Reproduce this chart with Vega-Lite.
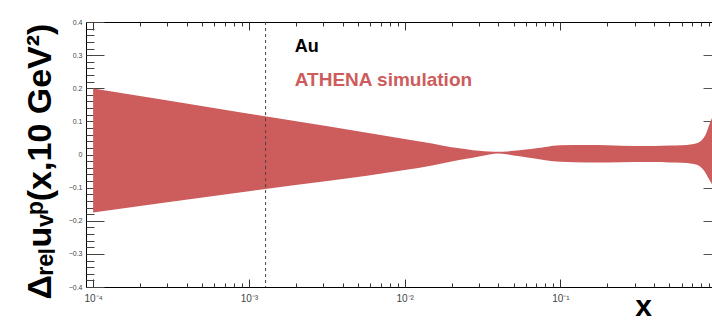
{
  "$schema": "https://vega.github.io/schema/vega-lite/v6.json",
  "width": 626,
  "height": 265,
  "autosize": "none",
  "padding": {"left": 86, "top": 22, "right": 0, "bottom": 34},
  "config": {
    "view": {"stroke": "black", "strokeWidth": 1},
    "font": "Liberation Sans",
    "axis": {"grid": false, "domain": false, "labelFont": "Liberation Sans", "titleFont": "Liberation Sans"}
  },
  "datasets": {
    "band": [
      {"x": 0.0001, "lo": -0.175, "hi": 0.199},
      {"x": 0.001, "lo": -0.111, "hi": 0.123},
      {"x": 0.01, "lo": -0.047, "hi": 0.047},
      {"x": 0.015, "lo": -0.033, "hi": 0.033},
      {"x": 0.02, "lo": -0.021, "hi": 0.022},
      {"x": 0.025, "lo": -0.013, "hi": 0.016},
      {"x": 0.03, "lo": -0.006, "hi": 0.011},
      {"x": 0.035, "lo": 0.0, "hi": 0.009},
      {"x": 0.04, "lo": 0.003, "hi": 0.008},
      {"x": 0.045, "lo": 0.001, "hi": 0.009},
      {"x": 0.05, "lo": -0.003, "hi": 0.011},
      {"x": 0.06, "lo": -0.008, "hi": 0.015},
      {"x": 0.07, "lo": -0.013, "hi": 0.019},
      {"x": 0.08, "lo": -0.017, "hi": 0.023},
      {"x": 0.1, "lo": -0.022, "hi": 0.028},
      {"x": 0.15, "lo": -0.024, "hi": 0.029},
      {"x": 0.2, "lo": -0.024, "hi": 0.028},
      {"x": 0.3, "lo": -0.023, "hi": 0.026},
      {"x": 0.4, "lo": -0.023, "hi": 0.026},
      {"x": 0.5, "lo": -0.024, "hi": 0.027},
      {"x": 0.6, "lo": -0.025, "hi": 0.028},
      {"x": 0.7, "lo": -0.028, "hi": 0.031},
      {"x": 0.78, "lo": -0.035, "hi": 0.038},
      {"x": 0.83, "lo": -0.047, "hi": 0.05},
      {"x": 0.87, "lo": -0.062, "hi": 0.068},
      {"x": 0.9, "lo": -0.075, "hi": 0.088},
      {"x": 0.94, "lo": -0.09, "hi": 0.11}
    ],
    "cut": [{"x": 0.00128}],
    "tag": [{"label": "Au"}],
    "sim": [{"label": "ATHENA simulation"}]
  },
  "layer": [
    {
      "data": {"name": "band"},
      "mark": {"type": "area", "color": "#cd5c5c", "interpolate": "monotone", "opacity": 1},
      "encoding": {
        "x": {
          "field": "x", "type": "quantitative",
          "scale": {"type": "log", "domain": [0.00009, 0.94], "nice": false},
          "axis": {
            "orient": "bottom",
            "values": [0.0001, 0.0002, 0.0003, 0.0004, 0.0005, 0.0006, 0.0007, 0.0008, 0.0009,
                       0.001, 0.002, 0.003, 0.004, 0.005, 0.006, 0.007, 0.008, 0.009,
                       0.01, 0.02, 0.03, 0.04, 0.05, 0.06, 0.07, 0.08, 0.09,
                       0.1, 0.2, 0.3, 0.4, 0.5, 0.6, 0.7, 0.8, 0.9],
            "tickSize": {"condition": {"test": "abs(log(datum.value)/LN10 - round(log(datum.value)/LN10)) < 0.01", "value": -8}, "value": -4},
            "tickColor": "#333",
            "labelExpr": "abs(log(datum.value)/LN10 - round(log(datum.value)/LN10)) < 0.01 ? (round(log(datum.value)/LN10) == -4 ? '10⁻⁴' : round(log(datum.value)/LN10) == -3 ? '10⁻³' : round(log(datum.value)/LN10) == -2 ? '10⁻²' : '10⁻¹') : ''",
            "labelFontSize": 10,
            "labelColor": "#444",
            "labelPadding": 14,
            "labelFlush": false,
            "labelOverlap": false,
            "title": "x",
            "titleFontSize": 30,
            "titleFontWeight": "bold",
            "titleColor": "black",
            "titleX": 557,
            "titleY": 28,
            "titleAlign": "center",
            "titleBaseline": "alphabetic"
          }
        },
        "y": {
          "field": "lo", "type": "quantitative",
          "scale": {"domain": [-0.4, 0.4], "nice": false},
          "axis": {
            "orient": "left",
            "values": [-0.4, -0.38, -0.36, -0.34, -0.32, -0.3, -0.28, -0.26, -0.24, -0.22,
                       -0.2, -0.18, -0.16, -0.14, -0.12, -0.1, -0.08, -0.06, -0.04, -0.02,
                       0, 0.02, 0.04, 0.06, 0.08, 0.1, 0.12, 0.14, 0.16, 0.18,
                       0.2, 0.22, 0.24, 0.26, 0.28, 0.3, 0.32, 0.34, 0.36, 0.38, 0.4],
            "tickSize": {"condition": {"test": "abs(datum.value*10 - round(datum.value*10)) < 0.01", "value": -18}, "value": -8},
            "tickColor": "#444",
            "labelExpr": "abs(datum.value*10 - round(datum.value*10)) < 0.01 ? (abs(datum.value) < 0.001 ? '0' : format(datum.value, '.1f')) : ''",
            "labelFontSize": 7,
            "labelColor": "#444",
            "labelPadding": 22,
            "labelFlush": false,
            "labelOverlap": false,
            "title": "Δᵣₑₗuᵥᵖ(x,10 GeV²)",
            "titleFontSize": 34,
            "titleFontWeight": "bold",
            "titleColor": "black",
            "titleAngle": -90,
            "titleX": -36,
            "titleY": 139,
            "titleAlign": "center",
            "titleBaseline": "alphabetic"
          }
        },
        "y2": {"field": "hi"}
      }
    },
    {
      "data": {"name": "band"},
      "mark": {"type": "area", "opacity": 0},
      "encoding": {
        "x": {
          "field": "x", "type": "quantitative",
          "axis": {
            "orient": "top",
            "values": [0.0001, 0.0002, 0.0003, 0.0004, 0.0005, 0.0006, 0.0007, 0.0008, 0.0009,
                       0.001, 0.002, 0.003, 0.004, 0.005, 0.006, 0.007, 0.008, 0.009,
                       0.01, 0.02, 0.03, 0.04, 0.05, 0.06, 0.07, 0.08, 0.09,
                       0.1, 0.2, 0.3, 0.4, 0.5, 0.6, 0.7, 0.8, 0.9],
            "tickSize": {"condition": {"test": "abs(log(datum.value)/LN10 - round(log(datum.value)/LN10)) < 0.01", "value": -8}, "value": -4},
            "tickColor": "#333",
            "labels": false,
            "title": null
          }
        },
        "y": {
          "field": "lo", "type": "quantitative",
          "axis": {
            "orient": "right",
            "values": [-0.3, -0.2, -0.1, 0, 0.1, 0.2, 0.3],
            "tickSize": -9,
            "tickColor": "#555",
            "labels": false,
            "title": null
          }
        },
        "y2": {"field": "hi"}
      }
    },
    {
      "data": {"name": "cut"},
      "mark": {"type": "rule", "color": "#444", "strokeWidth": 1, "strokeDash": [3, 3]},
      "encoding": {
        "x": {"field": "x", "type": "quantitative", "axis": null}
      }
    },
    {
      "data": {"name": "tag"},
      "mark": {"type": "text", "align": "left", "baseline": "alphabetic", "fontSize": 18, "fontWeight": "bold", "color": "black"},
      "encoding": {
        "x": {"datum": 0.00197, "type": "quantitative", "axis": null},
        "y": {"datum": 0.308, "type": "quantitative", "axis": null},
        "text": {"field": "label"}
      }
    },
    {
      "data": {"name": "sim"},
      "mark": {"type": "text", "align": "left", "baseline": "alphabetic", "fontSize": 19, "fontWeight": "bold", "color": "#cd5c5c"},
      "encoding": {
        "x": {"datum": 0.00197, "type": "quantitative", "axis": null},
        "y": {"datum": 0.206, "type": "quantitative", "axis": null},
        "text": {"field": "label"}
      }
    }
  ],
  "resolve": {"axis": {"x": "independent", "y": "independent"}}
}
